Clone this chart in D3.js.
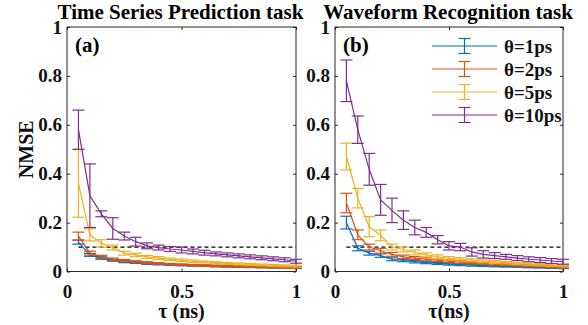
<!DOCTYPE html>
<html>
<head>
<meta charset="utf-8">
<script src="https://cdn.jsdelivr.net/npm/d3@7"></script>
<style>
  html, body { margin: 0; padding: 0; background: #fff; }
  svg { display: block; font-family: "Liberation Serif", "Times New Roman", serif; font-weight: bold; }
</style>
</head>
<body>
<svg id="chart" width="588" height="325"></svg>
<script>
// Delay tau (ns)
const tau = [0.05, 0.10, 0.15, 0.20, 0.25, 0.30, 0.35, 0.40, 0.45, 0.50,
             0.55, 0.60, 0.65, 0.70, 0.75, 0.80, 0.85, 0.90, 0.95, 1.00];

const seriesNames = ["θ=1ps", "θ=2ps", "θ=5ps", "θ=10ps"];
const seriesColors = ["#0072BD", "#D95319", "#EDB120", "#7E2F8E"];

// (a) Time series prediction: NMSE mean and error
const tspMean1  = [0.120, 0.068, 0.055, 0.046, 0.040, 0.036, 0.032, 0.030, 0.028, 0.026, 0.025, 0.024, 0.022, 0.021, 0.020, 0.019, 0.018, 0.017, 0.016, 0.015];
const tspErr1   = [0.008, 0.006, 0.005, 0.004, 0.004, 0.003, 0.003, 0.003, 0.003, 0.003, 0.003, 0.003, 0.003, 0.003, 0.003, 0.003, 0.003, 0.003, 0.003, 0.003];
const tspMean2  = [0.145, 0.075, 0.060, 0.050, 0.045, 0.040, 0.036, 0.033, 0.030, 0.028, 0.026, 0.024, 0.023, 0.022, 0.021, 0.020, 0.019, 0.018, 0.017, 0.016];
const tspErr2   = [0.016, 0.008, 0.006, 0.005, 0.004, 0.004, 0.004, 0.003, 0.003, 0.003, 0.003, 0.003, 0.003, 0.003, 0.003, 0.003, 0.003, 0.003, 0.003, 0.003];
const tspMean5  = [0.360, 0.150, 0.115, 0.098, 0.075, 0.068, 0.060, 0.055, 0.050, 0.046, 0.042, 0.039, 0.036, 0.033, 0.031, 0.029, 0.027, 0.025, 0.023, 0.022];
const tspErr5   = [0.138, 0.025, 0.015, 0.010, 0.008, 0.007, 0.006, 0.006, 0.005, 0.005, 0.005, 0.004, 0.004, 0.004, 0.004, 0.004, 0.004, 0.004, 0.004, 0.004];
const tspMean10 = [0.580, 0.310, 0.236, 0.176, 0.145, 0.122, 0.105, 0.098, 0.092, 0.088, 0.082, 0.077, 0.072, 0.068, 0.064, 0.060, 0.056, 0.052, 0.048, 0.042];
const tspErr10  = [0.080, 0.130, 0.012, 0.044, 0.016, 0.018, 0.012, 0.010, 0.010, 0.012, 0.010, 0.010, 0.008, 0.008, 0.008, 0.008, 0.008, 0.008, 0.008, 0.008];

// (b) Waveform recognition: NMSE mean and error
const wfrMean1  = [0.200, 0.095, 0.075, 0.065, 0.050, 0.045, 0.040, 0.036, 0.033, 0.030, 0.028, 0.026, 0.024, 0.022, 0.021, 0.020, 0.018, 0.017, 0.016, 0.015];
const wfrErr1   = [0.026, 0.010, 0.008, 0.007, 0.006, 0.005, 0.005, 0.004, 0.004, 0.004, 0.004, 0.004, 0.003, 0.003, 0.003, 0.003, 0.003, 0.003, 0.003, 0.003];
const wfrMean2  = [0.280, 0.150, 0.100, 0.085, 0.070, 0.060, 0.055, 0.050, 0.046, 0.042, 0.039, 0.036, 0.033, 0.030, 0.028, 0.026, 0.024, 0.022, 0.020, 0.018];
const wfrErr2   = [0.040, 0.020, 0.012, 0.010, 0.008, 0.007, 0.006, 0.006, 0.005, 0.005, 0.005, 0.004, 0.004, 0.004, 0.004, 0.004, 0.004, 0.004, 0.004, 0.004];
const wfrMean5  = [0.470, 0.300, 0.183, 0.148, 0.100, 0.090, 0.078, 0.068, 0.060, 0.054, 0.050, 0.046, 0.042, 0.039, 0.036, 0.033, 0.030, 0.028, 0.026, 0.024];
const wfrErr5   = [0.055, 0.040, 0.041, 0.022, 0.012, 0.010, 0.010, 0.008, 0.008, 0.007, 0.007, 0.006, 0.006, 0.006, 0.005, 0.005, 0.005, 0.005, 0.005, 0.005];
const wfrMean10 = [0.780, 0.580, 0.418, 0.293, 0.250, 0.210, 0.180, 0.160, 0.130, 0.105, 0.100, 0.080, 0.070, 0.065, 0.060, 0.055, 0.050, 0.047, 0.043, 0.040];
const wfrErr10  = [0.085, 0.056, 0.065, 0.063, 0.050, 0.038, 0.030, 0.020, 0.017, 0.017, 0.015, 0.017, 0.015, 0.012, 0.010, 0.010, 0.010, 0.010, 0.010, 0.010];

const threshold = 0.1;

const xTicks = [0, 0.5, 1];
const xTickLabels = ["0", "0.5", "1"];
const yTicks = [0, 0.2, 0.4, 0.6, 0.8, 1];
const yTickLabels = ["0", "0.2", "0.4", "0.6", "0.8", "1"];

const panels = [
  { title: "Time Series Prediction task", tag: "(a)", xlabel: "τ (ns)", left: 67, right: 296,
    means: [tspMean1, tspMean2, tspMean5, tspMean10], errs: [tspErr1, tspErr2, tspErr5, tspErr10], legend: false, ylabel: "NMSE" },
  { title: "Waveform Recognition task", tag: "(b)", xlabel: "τ(ns)", left: 335, right: 563,
    means: [wfrMean1, wfrMean2, wfrMean5, wfrMean10], errs: [wfrErr1, wfrErr2, wfrErr5, wfrErr10], legend: true, ylabel: null }
];

const plotTop = 27, plotBottom = 271.5;
const axisColor = "#262626";
const capW = 12;

const svg = d3.select("#chart");

panels.forEach(p => {
  const x = d3.scaleLinear().domain([0, 1]).range([p.left, p.right]);
  const y = d3.scaleLinear().domain([0, 1]).range([plotBottom, plotTop]);
  const g = svg.append("g");

  // axes box
  g.append("rect")
    .attr("x", p.left).attr("y", plotTop)
    .attr("width", p.right - p.left).attr("height", plotBottom - plotTop)
    .attr("fill", "none").attr("stroke", axisColor).attr("stroke-width", 1);

  const styleAxis = sel => {
    sel.select(".domain").remove();
    sel.selectAll(".tick line").attr("stroke", axisColor);
    sel.selectAll(".tick text").attr("fill", "#111").style("font-size", "19px")
      .style("font-family", "'Liberation Serif', serif").style("font-weight", "bold");
  };

  g.append("g").attr("transform", `translate(0,${plotBottom})`)
    .call(d3.axisBottom(x).tickValues(xTicks).tickSize(-3).tickPadding(8)
      .tickFormat((d, i) => xTickLabels[i]))
    .call(styleAxis)
    .selectAll(".tick text").attr("dy", "0.95em");
  g.append("g").attr("transform", `translate(0,${plotTop})`)
    .call(d3.axisTop(x).tickValues(xTicks).tickSize(-3).tickFormat(""))
    .call(styleAxis);
  g.append("g").attr("transform", `translate(${p.left},0)`)
    .call(d3.axisLeft(y).tickValues(yTicks).tickSize(-3).tickPadding(5)
      .tickFormat((d, i) => yTickLabels[i]))
    .call(styleAxis);
  g.append("g").attr("transform", `translate(${p.right},0)`)
    .call(d3.axisRight(y).tickValues(yTicks).tickSize(-3).tickFormat(""))
    .call(styleAxis);

  // NMSE = 0.1 threshold
  g.append("line")
    .attr("x1", x(tau[0])).attr("x2", x(1))
    .attr("y1", y(threshold)).attr("y2", y(threshold))
    .attr("stroke", "#000").attr("stroke-width", 1.2).attr("stroke-dasharray", "4,3");

  // series with error bars
  const line = d3.line().x(d => x(d[0])).y(d => y(d[1]));
  p.means.forEach((m, si) => {
    const col = seriesColors[si];
    const pts = tau.map((t, i) => [t, m[i], p.errs[si][i]]);
    const sg = g.append("g");
    sg.append("path").datum(pts).attr("d", line)
      .attr("fill", "none").attr("stroke", col).attr("stroke-width", 1.2);
    const eb = sg.selectAll("g.eb").data(pts).join("g").attr("class", "eb")
      .attr("stroke", col).attr("stroke-width", 1.2);
    eb.append("line")
      .attr("x1", d => x(d[0])).attr("x2", d => x(d[0]))
      .attr("y1", d => y(d[1] - d[2])).attr("y2", d => y(d[1] + d[2]));
    eb.append("line")
      .attr("x1", d => x(d[0]) - capW / 2).attr("x2", d => x(d[0]) + capW / 2)
      .attr("y1", d => y(d[1] + d[2])).attr("y2", d => y(d[1] + d[2]));
    eb.append("line")
      .attr("x1", d => x(d[0]) - capW / 2).attr("x2", d => x(d[0]) + capW / 2)
      .attr("y1", d => y(d[1] - d[2])).attr("y2", d => y(d[1] - d[2]));
  });

  // title
  svg.append("text")
    .attr("x", (p.left + p.right) / 2 - 1).attr("y", 19)
    .attr("text-anchor", "middle").style("font-size", "21px").attr("fill", "#000")
    .text(p.title);

  // panel tag
  svg.append("text")
    .attr("x", p.left + 8).attr("y", 52)
    .style("font-size", "21px").attr("fill", "#000")
    .text(p.tag);

  // x label
  svg.append("text")
    .attr("x", (p.left + p.right) / 2).attr("y", 318)
    .attr("text-anchor", "middle").style("font-size", "20px").attr("fill", "#111")
    .text(p.xlabel);

  if (p.ylabel) {
    svg.append("text")
      .attr("transform", `translate(33,${(plotTop + plotBottom) / 2}) rotate(-90)`)
      .attr("text-anchor", "middle").style("font-size", "20px").attr("fill", "#111")
      .text(p.ylabel);
  }

  if (p.legend) {
    const lx0 = 432, lx1 = 497, rowY = [46, 69, 92, 115];
    seriesNames.forEach((name, si) => {
      const col = seriesColors[si];
      const cy = rowY[si], cx = (lx0 + lx1) / 2;
      const lg = svg.append("g").attr("stroke", col).attr("stroke-width", 1.2);
      lg.append("line").attr("x1", lx0).attr("x2", lx1).attr("y1", cy).attr("y2", cy);
      lg.append("line").attr("x1", cx).attr("x2", cx).attr("y1", cy - 7.5).attr("y2", cy + 7.5);
      lg.append("line").attr("x1", cx - capW / 2).attr("x2", cx + capW / 2).attr("y1", cy - 7.5).attr("y2", cy - 7.5);
      lg.append("line").attr("x1", cx - capW / 2).attr("x2", cx + capW / 2).attr("y1", cy + 7.5).attr("y2", cy + 7.5);
      svg.append("text").attr("x", 504).attr("y", cy + 6.5)
        .style("font-size", "19px").attr("fill", "#111").text(name);
    });
  }
});
</script>
</body>
</html>
